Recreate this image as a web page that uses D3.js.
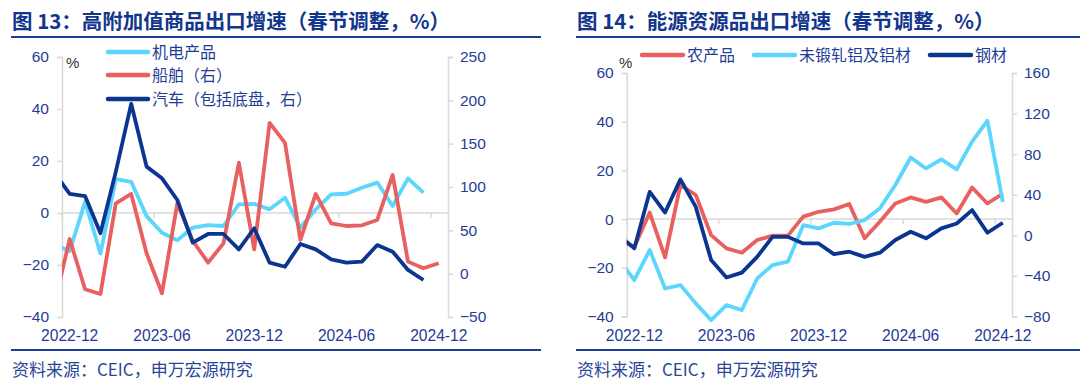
<!DOCTYPE html>
<html>
<head>
<meta charset="utf-8">
<script src="https://cdn.jsdelivr.net/npm/d3@7"></script>
<style>
  body { margin: 0; background: #fff; }
  svg { display: block; }
</style>
</head>
<body>
<div id="chart"></div>
<script>
// months from 2022-11 (first point sits left of the axis and gets clipped) to 2024-12
var months = ["2022-11","2022-12","2023-01","2023-02","2023-03","2023-04","2023-05","2023-06",
  "2023-07","2023-08","2023-09","2023-10","2023-11","2023-12","2024-01","2024-02","2024-03",
  "2024-04","2024-05","2024-06","2024-07","2024-08","2024-09","2024-10","2024-11","2024-12"];
var tickLabels = ["2022-12","2023-06","2023-12","2024-06","2024-12"];

// chart 13 (left axis %: 机电产品; right axis: 船舶, 汽车)
var jidian = [-12.1,-14.6,4.3,-15.6,13,12,-1.2,-7.6,-10.5,-5.6,-4.7,-5,3.3,3.5,1.4,5.9,-5.6,1.4,7.2,7.4,9.7,11.7,2.7,13.3,7.8];
var chuanbo = [-35.4,40,-18,-23.4,81.2,92,23.5,-22.6,81.2,38,12.7,35,128,28,174,151,39,92,58,55,55.8,62,114,13.9,6.2,12];
var qiche = [116.7,92,89.6,46.6,117.7,196,123.5,110,85,35.8,45.8,45.8,28,52.4,12.7,8,34.3,28,16.6,12.7,13.9,33,25.4,4.3,-7.3];

// chart 14 (%)
var nongchanpin = [-8.6,-11.4,2.7,-15.7,14,9.9,-6.6,-12,-13.8,-8.6,-6.8,-6.8,1,3,4,6.2,-7.9,-1,6.4,8.9,7.1,8.9,2.3,13,6.4,10.5];
var lvcai = [-16.8,-25,-12.7,-28.5,-27.1,-34.6,-41.5,-35.3,-37.4,-24.4,-18.9,-17.5,-2.5,-3.8,-1.5,-2,-0.4,4.5,14,25.3,20.8,24.5,20.4,31.8,40.4,7.1];
var gangcai = [-6.6,-12,11.2,2.7,16.3,5,-16.8,-24,-22,-15.5,-7.3,-7.3,-10,-10,-14.4,-13.4,-15.5,-13.8,-8.6,-5.2,-7.9,-3.8,-1.8,3.7,-5.6,-1.5];

var ticksL13 = [60,40,20,0,-20,-40];
var ticksR13 = [250,200,150,100,50,0,-50];
var ticksL14 = [60,40,20,0,-20,-40];
var ticksR14 = [160,120,80,40,0,-40,-80];

var NAVY = "#0b3590", CYAN = "#5dd6fd", RED = "#e8605f";
var TXT = "#1f3d96", GRID = "#d9d9d9";
var CJK = "'Noto Sans CJK SC', 'Noto Sans', sans-serif";
var NUM = "'Liberation Sans', Arial, sans-serif";

var svg = d3.select("#chart").append("svg")
  .attr("width", 1080).attr("height", 384);

function monthIndex(m) {
  var p = m.split("-");
  return (+p[0] - 2022) * 12 + (+p[1]) - 12;   // 2022-12 -> 0
}

function drawPanel(o) {
  var g = svg.append("g");

  // header + footer
  g.append("text").attr("x", o.x0).attr("y", 28.5)
    .text(o.title)
    .style("font-family", CJK).style("font-size", "20.5px").style("font-weight", 700)
    .attr("fill", "#12368c");
  g.append("line").attr("x1", o.x0 - 1).attr("x2", o.x1).attr("y1", 37).attr("y2", 37)
    .attr("stroke", "#1a3e93").attr("stroke-width", 2);
  g.append("line").attr("x1", o.x0 - 1).attr("x2", o.x1).attr("y1", 350).attr("y2", 350)
    .attr("stroke", "#1a3e93").attr("stroke-width", 2);
  g.append("text").attr("x", o.x0).attr("y", 376)
    .text("资料来源：CEIC，申万宏源研究")
    .style("font-family", CJK).style("font-size", "17px").attr("fill", "#2a4797");

  var x = d3.scaleLinear().domain([-0.5, 24.6]).range([o.left, o.right]);
  var yL = d3.scaleLinear().domain(d3.extent(o.ticksL)).range([o.bottom, o.top]);
  var yR = d3.scaleLinear().domain(d3.extent(o.ticksR)).range([o.bottom, o.top]);

  // y axes
  var axL = g.append("g").attr("transform", "translate(" + o.left + ",0)")
    .call(d3.axisLeft(yL).tickValues(o.ticksL).tickSize(5).tickPadding(8));
  var axR = g.append("g").attr("transform", "translate(" + o.right + ",0)")
    .call(d3.axisRight(yR).tickValues(o.ticksR).tickSize(5).tickPadding(7));
  [axL, axR].forEach(function (a) {
    a.select(".domain").attr("stroke", GRID).attr("stroke-width", 1.5);
    a.selectAll(".tick line").attr("stroke", GRID).attr("stroke-width", 1.5);
    a.selectAll(".tick text").attr("fill", TXT)
      .style("font-family", NUM).style("font-size", "15.5px");
  });

  // x axis on the zero line, labels at the bottom
  var y0 = yL(0);
  g.append("line").attr("x1", o.left).attr("x2", o.right).attr("y1", y0).attr("y2", y0)
    .attr("stroke", GRID).attr("stroke-width", 1.5);
  var tickPos = tickLabels.map(function (t) { return monthIndex(t); });
  g.selectAll(".xt").data(tickPos).join("line")
    .attr("x1", function (d) { return x(d - 0.5); })
    .attr("x2", function (d) { return x(d - 0.5); })
    .attr("y1", y0).attr("y2", y0 + 5)
    .attr("stroke", GRID).attr("stroke-width", 1.5);
  g.selectAll(".xl").data(tickLabels).join("text")
    .attr("x", function (d) { return x(monthIndex(d)); })
    .attr("y", 341)
    .attr("text-anchor", "middle")
    .text(function (d) { return d; })
    .style("font-family", NUM).style("font-size", "15.6px").attr("fill", TXT);

  // % unit
  g.append("text").attr("x", o.pctX).attr("y", o.pctY).text("%")
    .style("font-family", NUM).style("font-size", "15px").attr("fill", "#333");

  // lines
  var clipId = "clip" + o.id;
  svg.append("clipPath").attr("id", clipId).append("rect")
    .attr("x", o.left).attr("y", 0).attr("width", o.right - o.left).attr("height", 384);
  var plot = g.append("g").attr("clip-path", "url(#" + clipId + ")");
  o.series.forEach(function (s) {
    var sc = s.axis === "R" ? yR : yL;
    var pts = s.values.map(function (v, k) { return { i: monthIndex(months[k]), v: v }; });
    var line = d3.line().x(function (d) { return x(d.i); }).y(function (d) { return sc(d.v); });
    plot.append("path").datum(pts).attr("d", line)
      .attr("fill", "none").attr("stroke", s.color).attr("stroke-width", 3.8)
      .attr("stroke-linejoin", "round");
  });

  // legend
  var lg = g.selectAll(".lg").data(o.series).join("g")
    .attr("transform", function (d, k) { return "translate(" + o.legend[k][0] + "," + o.legend[k][1] + ")"; });
  lg.append("line").attr("x1", 0).attr("x2", o.legendW).attr("y1", 0).attr("y2", 0)
    .attr("stroke", function (d) { return d.color; }).attr("stroke-width", 4.5)
    .attr("stroke-linecap", "round");
  lg.append("text").attr("x", o.legendW + 4).attr("y", 0).attr("dy", "0.36em")
    .text(function (d) { return d.name; })
    .style("font-family", CJK).style("font-size", "16px").attr("fill", TXT);
}

drawPanel({
  id: 13, x0: 12, x1: 541,
  title: "图 13：高附加值商品出口增速（春节调整，%）",
  left: 62, right: 448, top: 57, bottom: 317,
  ticksL: ticksL13, ticksR: ticksR13,
  pctX: 66, pctY: 68,
  legendW: 40,
  legend: [[108, 52], [108, 75], [108, 99]],
  series: [
    { name: "机电产品", values: jidian, color: CYAN, axis: "L" },
    { name: "船舶（右）", values: chuanbo, color: RED, axis: "R" },
    { name: "汽车（包括底盘，右）", values: qiche, color: NAVY, axis: "R" }
  ]
});

drawPanel({
  id: 14, x0: 577, x1: 1080,
  title: "图 14：能源资源品出口增速（春节调整，%）",
  left: 626.7, right: 1012, top: 73, bottom: 316.5,
  ticksL: ticksL14, ticksR: ticksR14,
  pctX: 619, pctY: 68,
  legendW: 41,
  legend: [[642, 55], [754, 55], [930, 55]],
  series: [
    { name: "农产品", values: nongchanpin, color: RED, axis: "L" },
    { name: "未锻轧铝及铝材", values: lvcai, color: CYAN, axis: "L" },
    { name: "钢材", values: gangcai, color: NAVY, axis: "L" }
  ]
});
</script>
</body>
</html>
